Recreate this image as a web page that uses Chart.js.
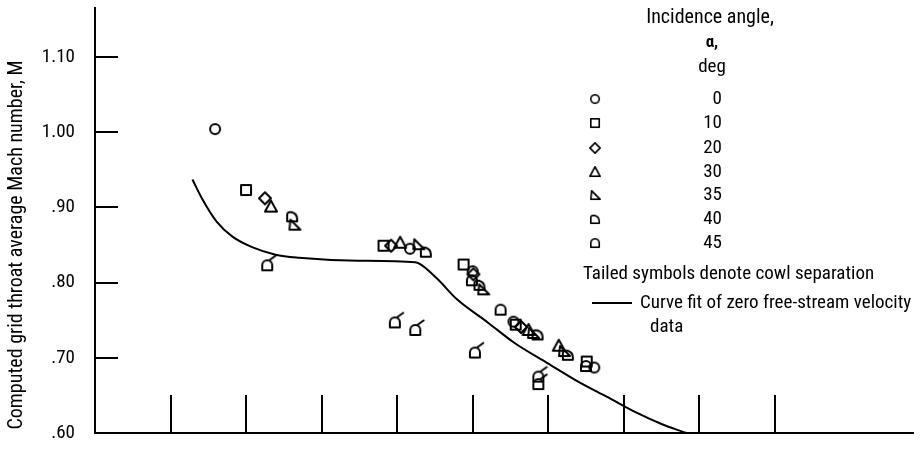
<!DOCTYPE html>
<html>
<head>
<meta charset="utf-8">
<script src="https://cdn.jsdelivr.net/npm/chart.js@4.4.1/dist/chart.umd.min.js"></script>
<style>
  html, body { margin: 0; padding: 0; background: #fff; }
  #wrap { width: 920px; height: 450px; }
</style>
</head>
<body>
<div id="wrap"><canvas id="c" width="920" height="450"></canvas></div>
<script>
// Incidence angles, in legend order
const angles = ['0', '10', '20', '30', '35', '40', '45'];

// Measured points per incidence angle: [x, Mach number]
const alpha0  = [[1.59, 1.004], [4.17, 0.845], [5.00, 0.815], [5.54, 0.748], [6.61, 0.687]];
const alpha10 = [[2.00, 0.923], [3.82, 0.849], [4.88, 0.824], [5.57, 0.744], [6.51, 0.695]];
const alpha20 = [[2.25, 0.912], [3.92, 0.849], [5.01, 0.811], [5.64, 0.741]];
const alpha30 = [[2.33, 0.901], [4.04, 0.853], [5.74, 0.737], [6.14, 0.716]];
const alpha35 = [[2.64, 0.877], [4.28, 0.851], [5.14, 0.791], [5.80, 0.733], [6.21, 0.709]];
const alpha40 = [[2.61, 0.888], [4.38, 0.841], [5.09, 0.797], [5.86, 0.731], [6.26, 0.704]];
const alpha45 = [[4.99, 0.803], [5.37, 0.764], [6.50, 0.689]];
// 45 deg points with cowl separation (tailed symbols)
const alpha45Tailed = [[2.28, 0.823], [3.97, 0.747], [4.24, 0.737], [5.03, 0.707], [5.87, 0.675], [5.87, 0.665]];

// Curve fit of zero free-stream velocity data
const curveFit = [
  [1.29, 0.937], [1.42, 0.911], [1.61, 0.881], [1.82, 0.861], [2.08, 0.847],
  [2.39, 0.837], [2.70, 0.833], [3.49, 0.829], [4.24, 0.827], [4.50, 0.808],
  [4.80, 0.777], [5.20, 0.747], [5.55, 0.720], [5.99, 0.693], [6.42, 0.667],
  [6.78, 0.648], [7.17, 0.627], [7.50, 0.612], [7.83, 0.600]
];

// Axis ticks
const yTicks = [0.60, 0.70, 0.80, 0.90, 1.00, 1.10];
const yTickLabels = ['.60', '.70', '.80', '.90', '1.00', '1.10'];
const xTicks = [1, 2, 3, 4, 5, 6, 7, 8, 9];

const FONT = "'Liberation Sans Narrow', 'Roboto Condensed', 'DejaVu Sans Condensed', 'Liberation Sans', sans-serif";

// Outline marker glyphs drawn onto small canvases
function marker(kind, tailed) {
  const S = 30;
  const c = document.createElement('canvas');
  c.width = S; c.height = S;
  const g = c.getContext('2d');
  g.translate(S / 2, S / 2);
  g.strokeStyle = '#000';
  g.lineWidth = 2;
  g.lineJoin = 'round';
  g.beginPath();
  switch (kind) {
    case 'circle':
      g.arc(0, 0, 5, 0, Math.PI * 2);
      break;
    case 'square':
      g.rect(-5, -5, 10, 10);
      break;
    case 'diamond':
      g.moveTo(0, -6); g.lineTo(6, 0); g.lineTo(0, 6); g.lineTo(-6, 0); g.closePath();
      break;
    case 'triangle':
      g.moveTo(0, -6); g.lineTo(6, 5); g.lineTo(-6, 5); g.closePath();
      break;
    case 'flag':
      g.moveTo(-4, -5); g.lineTo(6, 5); g.lineTo(-5, 5); g.closePath();
      break;
    case 'dee':
      g.moveTo(-5, 5); g.lineTo(-5, -2);
      g.bezierCurveTo(-5, -6, 5, -5, 5, 3);
      g.lineTo(5, 5); g.closePath();
      break;
    case 'dome':
      g.moveTo(-5, 5); g.lineTo(-5, 0);
      g.arc(0, 0, 5, Math.PI, 0);
      g.lineTo(5, 5); g.closePath();
      break;
  }
  g.stroke();
  if (tailed) {
    g.beginPath();
    g.moveTo(2, -5); g.lineTo(9, -10);
    g.stroke();
  }
  return c;
}

const kinds = ['circle', 'square', 'diamond', 'triangle', 'flag', 'dee', 'dome'];
const glyphs = kinds.map(k => marker(k, false));
const tailedDome = marker('dome', true);

const toPts = arr => arr.map(([x, y]) => ({ x, y }));
const series = [alpha0, alpha10, alpha20, alpha30, alpha35, alpha40, alpha45];

const datasets = series.map((s, i) => ({
  label: angles[i],
  type: 'scatter',
  data: toPts(s),
  pointStyle: glyphs[i],
  pointRadius: 6,
  showLine: false
}));
datasets.push({
  label: '45 tailed',
  type: 'scatter',
  data: toPts(alpha45Tailed),
  pointStyle: tailedDome,
  pointRadius: 6,
  showLine: false
});
datasets.push({
  label: 'Curve fit',
  type: 'line',
  data: toPts(curveFit),
  borderColor: '#000',
  borderWidth: 2,
  pointRadius: 0,
  fill: false,
  tension: 0.4,
  cubicInterpolationMode: 'monotone'
});

// Inner tick marks, legend block and rotated axis title
const decor = {
  id: 'decor',
  afterDraw(chart) {
    const { ctx, chartArea: a, scales: { x, y } } = chart;
    ctx.save();
    ctx.strokeStyle = '#000';
    ctx.lineWidth = 2;
    ctx.beginPath();
    yTicks.forEach(v => {
      const py = Math.round(y.getPixelForValue(v));
      ctx.moveTo(a.left, py); ctx.lineTo(a.left + 23, py);
    });
    xTicks.forEach(v => {
      const px = Math.round(x.getPixelForValue(v));
      ctx.moveTo(px, a.bottom); ctx.lineTo(px, a.bottom - 38);
    });
    ctx.stroke();

    ctx.fillStyle = '#000';
    ctx.textBaseline = 'middle';
    ctx.font = '20px ' + FONT;
    ctx.textAlign = 'center';
    ctx.fillText('Incidence angle,', 710, 18);
    ctx.font = 'bold 17px ' + FONT;
    ctx.fillText('\u03b1,', 712, 43);
    ctx.font = '19px ' + FONT;
    ctx.fillText('deg', 712, 67);

    const rows = [99, 123, 148, 172, 195, 219, 243];
    const k = 0.85;
    ctx.textAlign = 'right';
    angles.forEach((lab, i) => {
      const gl = glyphs[i];
      const w = gl.width * k, h = gl.height * k;
      ctx.drawImage(gl, 595 - w / 2, rows[i] - h / 2, w, h);
      ctx.fillText(lab, 722, rows[i]);
    });

    ctx.textAlign = 'left';
    ctx.fillText('Tailed symbols denote cowl separation', 583, 274);
    ctx.beginPath();
    ctx.moveTo(592, 303); ctx.lineTo(632, 303);
    ctx.stroke();
    ctx.fillText('Curve fit of zero free-stream velocity', 640, 303);
    ctx.fillText('data', 650, 327);

    ctx.font = '20px ' + FONT;
    ctx.translate(17, 245);
    ctx.rotate(-Math.PI / 2);
    ctx.textAlign = 'center';
    ctx.fillText('Computed grid throat average Mach number, M', 0, 0);
    ctx.restore();
  }
};

new Chart(document.getElementById('c'), {
  type: 'scatter',
  data: { datasets },
  options: {
    responsive: false,
    animation: false,
    events: [],
    layout: { padding: { top: 8, right: 2, left: 0, bottom: 0 } },
    plugins: { legend: { display: false }, tooltip: { enabled: false } },
    scales: {
      x: {
        type: 'linear',
        min: 0,
        max: 10.83,
        grid: { display: false },
        border: { display: true, color: '#000', width: 2 },
        ticks: { display: false },
        afterFit: s => { s.height = 17; s.paddingLeft = 0; s.paddingRight = 0; }
      },
      y: {
        type: 'linear',
        min: 0.60,
        max: 1.165,
        grid: { display: false },
        border: { display: true, color: '#000', width: 2 },
        afterBuildTicks: s => { s.ticks = yTicks.map(v => ({ value: v })); },
        ticks: {
          padding: 12,
          color: '#000',
          font: { family: FONT, size: 19 },
          callback: v => yTickLabels[yTicks.indexOf(v)]
        },
        afterFit: s => { s.width = 95; s.paddingTop = 0; s.paddingBottom = 0; }
      }
    }
  },
  plugins: [decor]
});
</script>
</body>
</html>
